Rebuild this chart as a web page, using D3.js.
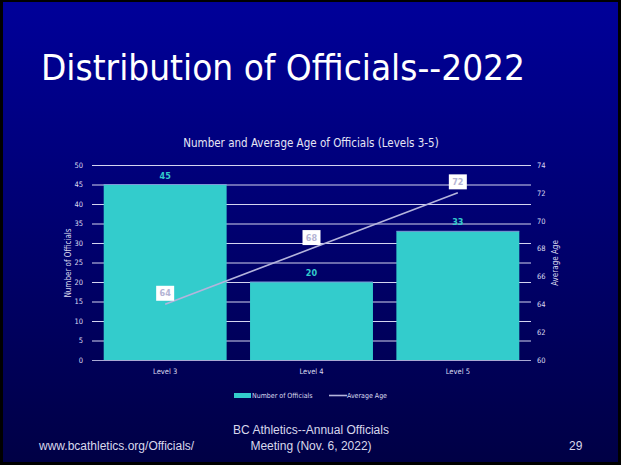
<!DOCTYPE html>
<html><head><meta charset="utf-8">
<script src="https://cdn.jsdelivr.net/npm/d3@7/dist/d3.min.js"></script>
<style>html,body{margin:0;padding:0;background:#000;}svg{display:block;}</style>
</head><body>
<script>
const categories = ["Level 3", "Level 4", "Level 5"];
const officials = [45, 20, 33];
const avgAge = [64, 68, 72];
const leftTicks = [0, 5, 10, 15, 20, 25, 30, 35, 40, 45, 50];
const rightTicks = [60, 62, 64, 66, 68, 70, 72, 74];

(function () {
const W = 621, H = 465;
const svg = d3.select("body").append("svg").attr("width", W).attr("height", H);
const defs = svg.append("defs");
const grad = defs.append("linearGradient").attr("id", "bg").attr("x1", 0).attr("y1", 0).attr("x2", 0).attr("y2", 1);
grad.append("stop").attr("offset", "0%").attr("stop-color", "#000099");
grad.append("stop").attr("offset", "100%").attr("stop-color", "#000045");

svg.append("rect").attr("width", W).attr("height", H).attr("fill", "#000");
svg.append("rect").attr("x", 3).attr("y", 2).attr("width", 615).attr("height", 460).attr("fill", "url(#bg)");

const font = "Tahoma, 'DejaVu Sans Condensed', 'DejaVu Sans', sans-serif";

svg.append("text").attr("x", 41).attr("y", 80).attr("fill", "#fff")
  .attr("font-family", font).attr("font-size", 36)
  .attr("textLength", 484).attr("lengthAdjust", "spacingAndGlyphs")
  .text("Distribution of Officials--2022");

const pl = 92, pr = 531, pt = 165, pb = 360;
const x = d3.scaleBand().domain(categories).range([pl, pr]).paddingInner(0.16).paddingOuter(0.08);
const y = d3.scaleLinear().domain([0, 50]).range([pb, pt]);
const y2 = d3.scaleLinear().domain([60, 74]).range([pb, pt]);

svg.append("text").attr("x", 311).attr("y", 147).attr("text-anchor", "middle")
  .attr("fill", "#e6e6f5").attr("font-family", font).attr("font-size", 11.5)
  .text("Number and Average Age of Officials (Levels 3-5)");

svg.append("g").selectAll("line").data(leftTicks.filter(d => d > 0)).join("line")
  .attr("x1", pl).attr("x2", pr).attr("y1", d => y(d) + 0.5).attr("y2", d => y(d) + 0.5)
  .attr("stroke", "#d4d4f0").attr("stroke-width", 1);

const gl = svg.append("g").attr("transform", `translate(${pl - 6},0)`)
  .call(d3.axisLeft(y).tickValues(leftTicks).tickSize(0).tickPadding(3));
gl.select(".domain").remove();
gl.selectAll("text").attr("fill", "#dcdcf0").attr("font-family", font).attr("font-size", 7.5);

const gr = svg.append("g").attr("transform", `translate(${pr + 3},0)`)
  .call(d3.axisRight(y2).tickValues(rightTicks).tickSize(0).tickPadding(3));
gr.select(".domain").remove();
gr.selectAll("text").attr("fill", "#dcdcf0").attr("font-family", font).attr("font-size", 7.5);

svg.append("g").selectAll("rect").data(officials).join("rect")
  .attr("x", (d, i) => x(categories[i])).attr("width", x.bandwidth())
  .attr("y", d => y(d)).attr("height", d => pb - y(d))
  .attr("fill", "#33CCCC");

svg.append("g").selectAll("line").data(officials).join("line")
  .attr("x1", (d, i) => x(categories[i])).attr("x2", (d, i) => x(categories[i]) + x.bandwidth())
  .attr("y1", d => y(d)).attr("y2", d => y(d))
  .attr("stroke", "#7d9ad8").attr("stroke-width", 1);

svg.append("line").attr("x1", pl).attr("x2", pr).attr("y1", pb + 0.5).attr("y2", pb + 0.5)
  .attr("stroke", "#a9a9d4").attr("stroke-width", 1.2);

const gx = svg.append("g").attr("transform", `translate(0,${pb + 6})`)
  .call(d3.axisBottom(x).tickSize(0).tickPadding(3));
gx.select(".domain").remove();
gx.selectAll("text").attr("fill", "#dcdcf0").attr("font-family", font).attr("font-size", 7.5);

svg.append("g").selectAll("text").data(officials).join("text")
  .attr("x", (d, i) => x(categories[i]) + x.bandwidth() / 2).attr("y", d => y(d) - 6)
  .attr("text-anchor", "middle").attr("fill", "#33CCCC").attr("font-weight", "bold")
  .attr("font-family", font).attr("font-size", 9).text(d => d);

const cx = (i) => x(categories[i]) + x.bandwidth() / 2;
const line = d3.line().x((d, i) => cx(i)).y(d => y2(d));
svg.append("path").datum(avgAge).attr("d", line).attr("fill", "none")
  .attr("stroke", "#b4b4dc").attr("stroke-width", 1.6);

const lg = svg.append("g").selectAll("g").data(avgAge).join("g")
  .attr("transform", (d, i) => `translate(${cx(i)},${y2(d) - 11})`);
lg.append("rect").attr("x", -9).attr("y", -7.5).attr("width", 18).attr("height", 15).attr("fill", "#fff");
lg.append("text").attr("text-anchor", "middle").attr("dy", "0.35em")
  .attr("fill", "#b4b4d4").attr("font-weight", "bold").attr("font-family", font).attr("font-size", 9)
  .text(d => d);

svg.append("text").attr("transform", "translate(71,263) rotate(-90)").attr("text-anchor", "middle")
  .attr("fill", "#dcdcf0").attr("font-family", font).attr("font-size", 8).text("Number of Officials");
svg.append("text").attr("transform", "translate(558,263) rotate(-90)").attr("text-anchor", "middle")
  .attr("fill", "#dcdcf0").attr("font-family", font).attr("font-size", 8).text("Average Age");

svg.append("rect").attr("x", 234).attr("y", 393).attr("width", 17).attr("height", 5).attr("fill", "#33CCCC");
svg.append("text").attr("x", 252).attr("y", 398).attr("fill", "#dcdcf0").attr("font-family", font)
  .attr("font-size", 7).text("Number of Officials");
svg.append("line").attr("x1", 329).attr("x2", 347).attr("y1", 395.5).attr("y2", 395.5)
  .attr("stroke", "#b4b4dc").attr("stroke-width", 1.6);
svg.append("text").attr("x", 347).attr("y", 398).attr("fill", "#dcdcf0").attr("font-family", font)
  .attr("font-size", 7).text("Average Age");

const ffont = "Arial, 'Liberation Sans', sans-serif";
svg.append("text").attr("x", 39).attr("y", 450).attr("fill", "#d8d8ec").attr("font-family", ffont)
  .attr("font-size", 12).text("www.bcathletics.org/Officials/");
svg.append("text").attr("x", 311).attr("y", 434).attr("text-anchor", "middle").attr("fill", "#d8d8ec")
  .attr("font-family", ffont).attr("font-size", 12).text("BC Athletics--Annual Officials");
svg.append("text").attr("x", 311).attr("y", 450).attr("text-anchor", "middle").attr("fill", "#d8d8ec")
  .attr("font-family", ffont).attr("font-size", 12).text("Meeting (Nov. 6, 2022)");
svg.append("text").attr("x", 569).attr("y", 450).attr("fill", "#d8d8ec").attr("font-family", ffont)
  .attr("font-size", 12).text("29");
})();
</script>
</body></html>
